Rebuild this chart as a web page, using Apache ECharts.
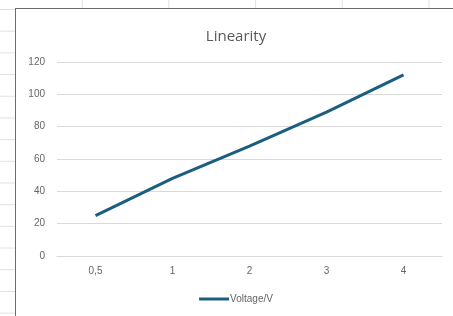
<!DOCTYPE html>
<html style="height: 100%">
<head>
    <meta charset="UTF-8">
    <title>Linearity</title>
    <style>
        body {
            margin: 0;
            height: 100%;
            overflow: hidden;
            /* spreadsheet cells behind the chart */
            background-color: #fff;
            background-image:
                linear-gradient(to right, #e1e1e1 1px, transparent 1px),
                linear-gradient(to bottom, #e1e1e1 1px, transparent 1px);
            background-size: 86.7px 21.7px;
            background-position: -5px 9px;
        }
        #container {
            position: absolute;
            left: 15px;
            top: 8px;
            width: 440px;
            height: 310px;
            border: 1px solid #6b6b6b;
            background: #fff;
        }
    </style>
</head>
<body>
<div id="container"></div>
<script src="https://cdn.jsdelivr.net/npm/echarts@6/dist/echarts.min.js"></script>
<script>
    var categories = ['0,5', '1', '2', '3', '4'];
    var voltage = [25, 48, 68, 89, 112];
    var yTicks = [0, 20, 40, 60, 80, 100, 120];

    var myChart = echarts.init(document.getElementById('container'));
    var option = {
        animation: false,
        title: {
            text: 'Linearity',
            left: 'center',
            top: 15,
            textStyle: {
                color: '#595959',
                fontSize: 15,
                fontWeight: 'normal',
                fontFamily: 'Open Sans'
            }
        },
        legend: {
            bottom: 10,
            left: 'center',
            itemWidth: 30,
            itemHeight: 3,
            itemGap: 0,
            icon: 'rect',
            textStyle: { color: '#666', fontSize: 10, padding: [0, 0, 0, -4] },
            data: ['Voltage/V']
        },
        grid: { left: 41, right: 14, top: 53, bottom: 63 },
        xAxis: {
            type: 'category',
            data: categories,
            boundaryGap: true,
            axisLine: { lineStyle: { color: '#d9d9d9' } },
            axisTick: { show: false },
            axisLabel: { color: '#666', fontSize: 10, margin: 10 },
        },
        yAxis: {
            type: 'value',
            min: yTicks[0],
            max: yTicks[yTicks.length - 1],
            interval: 20,
            axisLine: { show: false },
            axisTick: { show: false },
            axisLabel: { color: '#666', fontSize: 10, margin: 12 },
            splitLine: { lineStyle: { color: '#d9d9d9' } }
        },
        series: [
            {
                name: 'Voltage/V',
                type: 'line',
                data: voltage,
                showSymbol: false,
                symbol: 'none',
                lineStyle: { color: '#1b5e80', width: 3 },
                itemStyle: { color: '#1b5e80' }
            }
        ]
    };
    myChart.setOption(option);
</script>
</body>
</html>
